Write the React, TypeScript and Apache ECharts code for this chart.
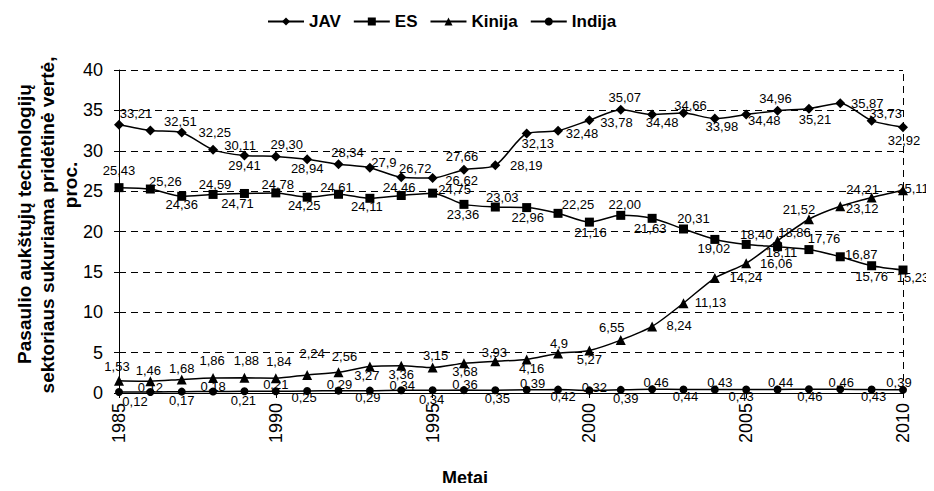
import React, { useEffect, useRef } from "react";
import * as echarts from "echarts";

const YEARS = [1985, 1986, 1987, 1988, 1989, 1990, 1991, 1992, 1993, 1994, 1995, 1996, 1997, 1998, 1999, 2000, 2001, 2002, 2003, 2004, 2005, 2006, 2007, 2008, 2009, 2010];
const X_TICKS = [1985, 1990, 1995, 2000, 2005, 2010];
const Y_TICKS = [0, 5, 10, 15, 20, 25, 30, 35, 40];

const JAV = ["33,21", "32,51", "32,25", "30,11", "29,41", "29,30", "28,94", "28,34", "27,9", "26,72", "26,62", "27,66", "28,19", "32,13", "32,48", "33,78", "35,07", "34,48", "34,66", "33,98", "34,48", "34,96", "35,21", "35,87", "33,73", "32,92"];
const ES = ["25,43", "25,26", "24,36", "24,59", "24,71", "24,78", "24,25", "24,61", "24,11", "24,46", "24,75", "23,36", "23,03", "22,96", "22,25", "21,16", "22,00", "21,63", "20,31", "19,02", "18,40", "18,11", "17,76", "16,87", "15,76", "15,23"];
const KINIJA = ["1,53", "1,46", "1,68", "1,86", "1,88", "1,84", "2,24", "2,56", "3,27", "3,36", "3,15", "3,68", "3,93", "4,16", "4,9", "5,27", "6,55", "8,24", "11,13", "14,24", "16,06", "18,86", "21,52", "23,12", "24,21", "25,11"];
const INDIJA = ["0,12", "0,12", "0,17", "0,18", "0,21", "0,21", "0,25", "0,29", "0,29", "0,34", "0,34", "0,36", "0,35", "0,39", "0,42", "0,32", "0,39", "0,46", "0,44", "0,43", "0,43", "0,44", "0,46", "0,46", "0,43", "0,39"];

// label placement (layout only): offset of label centre from the point
const JAV_OFF = [[17, -11], [30, -9], [33, 0], [27, -4], [0, 10], [11, -12], [0, 9], [9, -12], [14, -5], [14, -9], [29, 2], [-2, -13], [31, 0], [11, 10], [24, 3], [27, 2], [4, -12], [10, 8], [7, -8], [7, 8], [18, 6], [-2, -12], [6, 11], [27, 0], [14, -7], [1, 13]];
const ES_OFF = [[0, -17], [15, -8], [0, 8], [2, -10], [-7, 10], [2, -8], [-3, 8], [-2, -7], [-3, 8], [-2, -8], [22, -4], [-1, 10], [7, -10], [1, 10], [20, -9], [1, 10], [4, -11], [-2, 10], [10, -10], [-1, 9], [10, -10], [4, 6], [15, -11], [21, -2], [0, 11], [10, 7]];
const KINIJA_OFF = [[-2, -14], [-2, -11], [0, -11], [-1, -17], [2, -17], [3, -17], [5, -21], [6, -16], [-3, 9], [0, 9], [3, -12], [1, 8], [-1, -9], [5, 9], [1, -10], [0, 9], [-9, -13], [27, -1], [27, -1], [31, -1], [30, 0], [17, -8], [-10, -10], [22, 2], [-9, -8], [10, -2]];
const INDIJA_OFF = [[16, 9], [0, -5], [0, 9], [0, -5], [-1, 9], [0, -7], [-3, 7], [1, -6], [-2, 7], [1, -5], [-1, 9], [1, -6], [2, 8], [6, -6], [5, 7], [5, -3], [5, 9], [4, -7], [2, 7], [5, -7], [-5, 7], [3, -7], [1, 7], [1, -7], [2, 7], [-4, -7]];

const FONT = "'Liberation Sans', Arial, Helvetica, sans-serif";
const toNum = (s: string) => parseFloat(s.replace(",", "."));

function makeSeries(name: string, texts: string[], offs: number[][], symbol: string, size: number, extra: any = {}) {
  return {
    name,
    type: "line",
    smooth: 0.25,
    symbol,
    symbolSize: size,
    itemStyle: { color: "#000" },
    lineStyle: { color: "#000", width: 1.5 },
    label: {
      show: true,
      position: "inside",
      color: "#000",
      fontSize: 13,
      fontFamily: FONT,
      formatter: (p: any) => texts[p.dataIndex],
    },
    data: YEARS.map((y, i) => ({
      value: [y, toNum(texts[i])],
      label: { offset: offs[i] },
    })),
    z: 3,
    ...extra,
  };
}

const titleText = (text: string, x: number, y: number) => ({
  type: "text",
  x,
  y,
  rotation: Math.PI / 2,
  style: {
    text,
    fontSize: 19,
    fontWeight: "bold",
    fontFamily: FONT,
    fill: "#000",
    align: "center",
    verticalAlign: "middle",
  },
});

export default function App() {
  const ref = useRef<HTMLDivElement>(null);
  useEffect(() => {
    if (!ref.current) return;
    const chart = echarts.init(ref.current, undefined, { renderer: "svg" });
    chart.setOption({
      animation: false,
      backgroundColor: "#fff",
      textStyle: { fontFamily: FONT },
      legend: {
        top: 8,
        left: 262,
        itemWidth: 36,
        itemHeight: 10,
        itemGap: 12,
        textStyle: { fontSize: 17, fontWeight: "bold", color: "#000", fontFamily: FONT },
        data: ["JAV", "ES", "Kinija", "Indija"],
      },
      grid: { left: 119, right: 31, top: 70, bottom: 98 },
      xAxis: {
        type: "value",
        min: X_TICKS[0],
        max: X_TICKS[X_TICKS.length - 1],
        interval: 5,
        axisLine: { lineStyle: { color: "#000", width: 1 } },
        axisTick: { show: true, length: 5, lineStyle: { color: "#000" } },
        axisLabel: {
          rotate: 90,
          fontSize: 18,
          color: "#000",
          margin: 10,
          fontFamily: FONT,
          formatter: (v: number) => String(v),
        },
        splitLine: { show: false },
      },
      yAxis: {
        type: "value",
        min: Y_TICKS[0],
        max: Y_TICKS[Y_TICKS.length - 1],
        interval: 5,
        axisLine: { show: true, lineStyle: { color: "#000", width: 1 } },
        axisTick: { show: true, length: 5, lineStyle: { color: "#000" } },
        axisLabel: { fontSize: 18, color: "#000", margin: 16, fontFamily: FONT },
        splitLine: { show: true, lineStyle: { color: "#000", type: [7, 5], width: 1 } },
      },
      graphic: [
        titleText("Pasaulio aukštųjų technologijų", 24, 224),
        titleText("sektoriaus sukuriama pridėtinė vertė,", 47, 225),
        titleText("proc.", 70, 185),
        {
          type: "text",
          x: 465,
          y: 478,
          style: {
            text: "Metai",
            fontSize: 18,
            fontWeight: "bold",
            fontFamily: FONT,
            fill: "#000",
            align: "center",
            verticalAlign: "middle",
          },
        },
      ],
      series: [
        makeSeries("JAV", JAV, JAV_OFF, "diamond", 10, {
          markLine: {
            silent: true,
            symbol: "none",
            label: { show: false },
            lineStyle: { color: "#000", type: [7, 5], width: 1 },
            data: [{ xAxis: X_TICKS[X_TICKS.length - 1] }],
          },
        }),
        makeSeries("ES", ES, ES_OFF, "rect", 9),
        makeSeries("Kinija", KINIJA, KINIJA_OFF, "triangle", 10),
        makeSeries("Indija", INDIJA, INDIJA_OFF, "circle", 8),
      ],
    });
    return () => chart.dispose();
  }, []);
  return <div ref={ref} style={{ width: 934, height: 491, margin: -8 }} />;
}
